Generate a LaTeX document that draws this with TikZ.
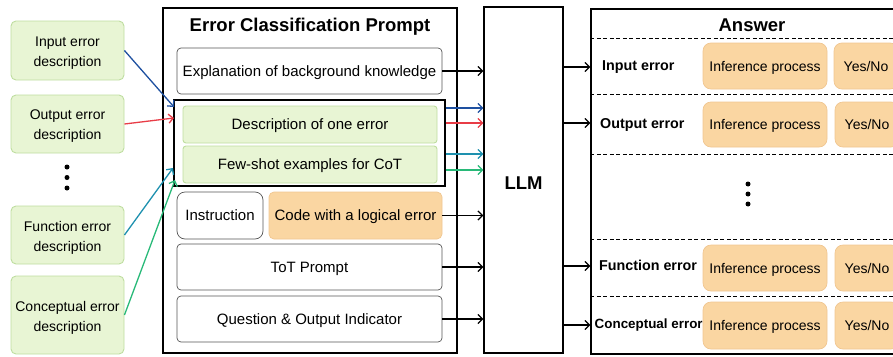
\documentclass[tikz,border=0pt]{standalone}
\usepackage{fontspec}
\setmainfont{Liberation Sans}
\usetikzlibrary{arrows.meta}
\definecolor{gfill}{RGB}{232,245,212}
\definecolor{gline}{RGB}{190,222,160}
\definecolor{ofill}{RGB}{250,214,162}
\definecolor{oline}{RGB}{240,198,145}
\definecolor{wline}{RGB}{85,85,85}
\definecolor{cblue}{RGB}{30,80,160}
\definecolor{cred}{RGB}{232,60,70}
\definecolor{cteal}{RGB}{30,145,175}
\definecolor{cgreen}{RGB}{40,185,120}
\newcommand\myfa{\fontsize{15}{18}\selectfont}
\newcommand\myfb{\fontsize{14}{20}\selectfont}
\newcommand\myft{\fontsize{18.5}{20}\selectfont\bfseries}
\begin{document}
\begin{tikzpicture}[x=1pt,y=-1pt,
  box/.style={inner sep=0pt, align=center, anchor=center, text depth=0pt},
  gbox/.style={inner sep=0pt, anchor=center, draw=gline, fill=gfill, line width=0.9pt, rounded corners=5pt},
  gtext/.style={inner sep=0pt, align=center, font=\myfb},
  gitem/.style={box, draw=gline, fill=gfill, line width=0.9pt, rounded corners=3pt, font=\myfa},
  witem/.style={box, draw=wline, line width=0.7pt, rounded corners=4pt, font=\myfa},
  oitem/.style={box, draw=oline, fill=ofill, line width=0.7pt, rounded corners=5pt, font=\myfa},
  abox/.style={box, draw=oline, fill=ofill, line width=0.7pt, rounded corners=8pt, font=\myfb},
  frame/.style={inner sep=0pt, anchor=center, draw=black, line width=1.3pt},
  ttl/.style={inner sep=0pt, anchor=base, font=\myft},
  arr/.style={-{Straight Barb[length=4.5pt,width=9pt]}, line width=1.3pt},
  lab/.style={inner sep=0pt, anchor=base west, font=\fontsize{14.3}{16}\selectfont\bfseries},
  dot/.style={fill=black, circle, inner sep=0pt, minimum size=5pt}
]
\useasboundingbox (0,0) rectangle (893,356);
\clip (0,0) rectangle (893,356);

% left descriptions
\node[gbox, minimum width=113, minimum height=59] (in) at (67.5,50.5) {};
\node[gtext] (intx) at (67.5,53) {Input error\\description};
\node[gbox, minimum width=113, minimum height=58] (out) at (67.5,124) {};
\node[gtext] (outtx) at (67.5,126.5) {Output error\\description};
\node[dot] (d1) at (67,167) {};
\node[dot] (d2) at (67,177.5) {};
\node[dot] (d3) at (67,188) {};
\node[gbox, minimum width=113, minimum height=58] (fun) at (67.5,235) {};
\node[gtext] (funtx) at (67.5,237.5) {Function error\\description};
\node[gbox, minimum width=113, minimum height=78] (con) at (67.5,315) {};
\node[gtext] (contx) at (67.5,317.5) {Conceptual error\\description};

% prompt
\node[frame, minimum width=294, minimum height=345] (prompt) at (310,180.5) {};
\node[ttl] (ptitle) at (310,31) {Error Classification Prompt};
\node[witem, minimum width=265, minimum height=46] (expl) at (309.5,71) {Explanation of background knowledge};
\node[frame, line width=1.4pt, minimum width=271, minimum height=86] (inner) at (309.5,143) {};
\node[gitem, minimum width=254, minimum height=37] (desc) at (310,124.5) {Description of one error};
\node[gitem, minimum width=254, minimum height=37] (few) at (310,164.5) {Few-shot examples for CoT};
\node[witem, rounded corners=8pt, minimum width=86, minimum height=47] (instr) at (220,215.5) {Instruction};
\node[oitem, minimum width=173, minimum height=47] (code) at (355.5,215.5) {Code with a logical error};
\node[witem, minimum width=265, minimum height=46] (tot) at (309.5,267) {ToT Prompt};
\node[witem, minimum width=265, minimum height=46] (ques) at (309.5,319) {Question \& Output Indicator};

% LLM
\node[frame, minimum width=79, minimum height=346] (llm) at (523.5,180) {};
\node[ttl] (llmt) at (523.5,189) {LLM};

% answer
\node[frame, minimum width=322, minimum height=345] (ans) at (752,181.5) {};
\node[ttl] (anst) at (752,31.5) {Answer};
\foreach \yy in {38,94,154,239,296}
  \draw[line width=1pt, dash pattern=on 4pt off 2.5pt] (ans.west |- 0,\yy) -- (ans.east |- 0,\yy);

\node[lab] (lin) at (602,70) {Input error};
\node[lab] (lout) at (600,128) {Output error};
\node[lab] (lfun) at (599,270) {Function error};
\node[lab, font=\fontsize{13.4}{16}\selectfont\bfseries] (lcon) at (594.5,328) {Conceptual error};

\node[abox, minimum width=124, minimum height=46] (i1) at (765,66) {Inference process};
\node[abox, minimum width=124, minimum height=45] (i2) at (765,124.5) {Inference process};
\node[abox, minimum width=124, minimum height=46] (i3) at (765,268) {Inference process};
\node[abox, minimum width=124, minimum height=47] (i4) at (765,325.5) {Inference process};
\node[abox, minimum width=64, minimum height=46] (y1) at (866,66) {Yes/No};
\node[abox, minimum width=64, minimum height=45] (y2) at (867,124.5) {Yes/No};
\node[abox, minimum width=64, minimum height=46] (y3) at (867,268) {Yes/No};
\node[abox, minimum width=64, minimum height=47] (y4) at (867,325.5) {Yes/No};

\node[dot] (e1) at (748,184) {};
\node[dot] (e2) at (748,194) {};
\node[dot] (e3) at (748,204) {};

% arrows left -> inner
\coordinate (tb) at (174,107);
\coordinate (tr) at (174,118);
\coordinate (tt) at (173,168);
\coordinate (tg) at (175,180);
\draw[arr, cblue] (in.east) -- (tb);
\draw[arr, cred] (out.east) -- (tr);
\draw[arr, cteal] (fun.east) -- (tt);
\draw[arr, cgreen] (con.east) -- (tg);

% arrows prompt -> LLM
\draw[arr] (expl.east) -- (expl.east -| llm.west);
\draw[arr] (code.east) -- (code.east -| llm.west);
\draw[arr] (tot.east) -- (tot.east -| llm.west);
\draw[arr] (ques.east) -- (ques.east -| llm.west);
\draw[arr, cblue] (inner.east |- 0,108) -- (llm.west |- 0,108);
\draw[arr, cred] (inner.east |- 0,123) -- (llm.west |- 0,123);
\draw[arr, cteal] (inner.east |- 0,154) -- (llm.west |- 0,154);
\draw[arr, cgreen] (inner.east |- 0,170) -- (llm.west |- 0,170);

% arrows LLM -> answer
\draw[arr] (llm.east |- 0,67) -- (ans.west |- 0,67);
\draw[arr] (llm.east |- 0,123) -- (ans.west |- 0,123);
\draw[arr] (llm.east |- 0,266) -- (ans.west |- 0,266);
\draw[arr] (llm.east |- 0,325) -- (ans.west |- 0,325);
\end{tikzpicture}
\end{document}
